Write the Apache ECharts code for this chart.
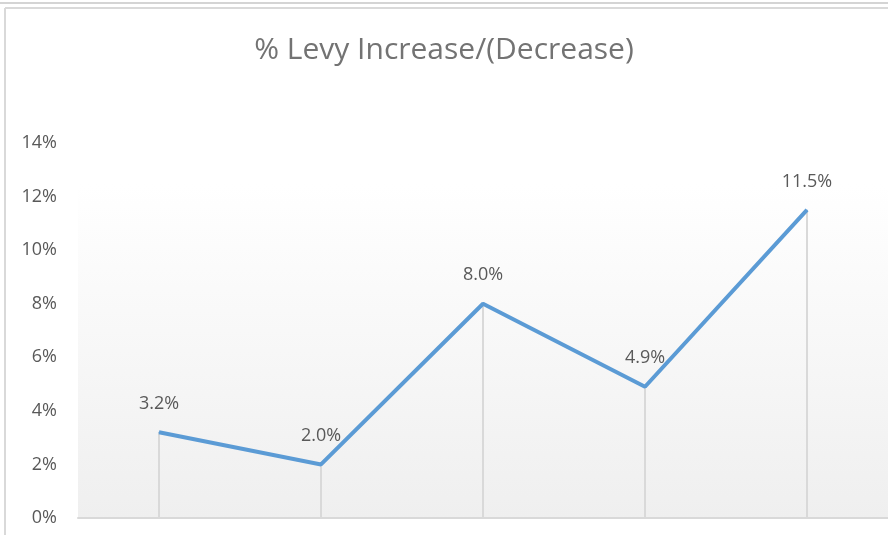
<!DOCTYPE html>
<html>
<head>
<meta charset="utf-8">
<script src="https://cdn.jsdelivr.net/npm/echarts@6/dist/echarts.min.js"></script>
<style>
  html, body { margin: 0; padding: 0; background: #fff; }
  #chart-container { width: 888px; height: 535px; }
</style>
</head>
<body>
<div id="chart-container"></div>
<script>
// data
var categories = ['Year 1', 'Year 2', 'Year 3', 'Year 4', 'Year 5'];
var levyChange = [3.2, 2.0, 8.0, 4.9, 11.5];
var yTicks = [0, 2, 4, 6, 8, 10, 12, 14];

var myChart = echarts.init(document.getElementById('chart-container'));
var option = {
  animation: false,
  title: {
    text: '% Levy Increase/(Decrease)',
    left: 'center',
    top: 30,
    textStyle: {
      fontFamily: 'Open Sans',
      fontWeight: 'normal',
      fontSize: 30,
      color: '#737373'
    }
  },
  graphic: [
    { type: 'line', shape: { x1: 0, y1: 3, x2: 888, y2: 3 }, style: { stroke: '#d4d4d4', lineWidth: 2 } },
    { type: 'line', shape: { x1: 5, y1: 8, x2: 888, y2: 8 }, style: { stroke: '#d9d9d9', lineWidth: 2 } },
    { type: 'line', shape: { x1: 5, y1: 8, x2: 5, y2: 535 }, style: { stroke: '#d9d9d9', lineWidth: 2 } }
  ],
  grid: {
    left: 78,
    right: -4,
    top: 143,
    bottom: 17,
    show: true,
    borderWidth: 0,
    backgroundColor: new echarts.graphic.LinearGradient(0, 0, 0, 1, [
      { offset: 0, color: '#ffffff' },
      { offset: 0.11, color: '#ffffff' },
      { offset: 1, color: '#efefef' }
    ])
  },
  xAxis: {
    type: 'category',
    data: categories,
    boundaryGap: true,
    axisLine: { lineStyle: { color: '#d9d9d9', width: 2 } },
    axisTick: { show: false },
    axisLabel: { show: false }
  },
  yAxis: {
    type: 'value',
    min: yTicks[0],
    max: yTicks[yTicks.length - 1],
    interval: 2,
    splitLine: { show: false },
    axisLine: { show: false },
    axisTick: { show: false },
    axisLabel: {
      margin: 21,
      fontFamily: 'Open Sans',
      fontSize: 18,
      color: '#595959',
      formatter: function (v) { return v + '%'; }
    }
  },
  series: [
    {
      // drop lines
      type: 'bar',
      data: levyChange,
      barWidth: 2,
      itemStyle: { color: '#d9d9d9' },
      silent: true,
      z: 1
    },
    {
      type: 'line',
      data: levyChange,
      symbol: 'circle',
      symbolSize: 1,
      itemStyle: { color: '#5b9bd5' },
      lineStyle: { color: '#5b9bd5', width: 4 },
      label: {
        show: true,
        position: 'top',
        distance: 19,
        fontFamily: 'Open Sans',
        fontSize: 18,
        color: '#595959',
        formatter: function (p) { return p.value.toFixed(1) + '%'; }
      },
      z: 3
    }
  ]
};
myChart.setOption(option);
</script>
</body>
</html>
